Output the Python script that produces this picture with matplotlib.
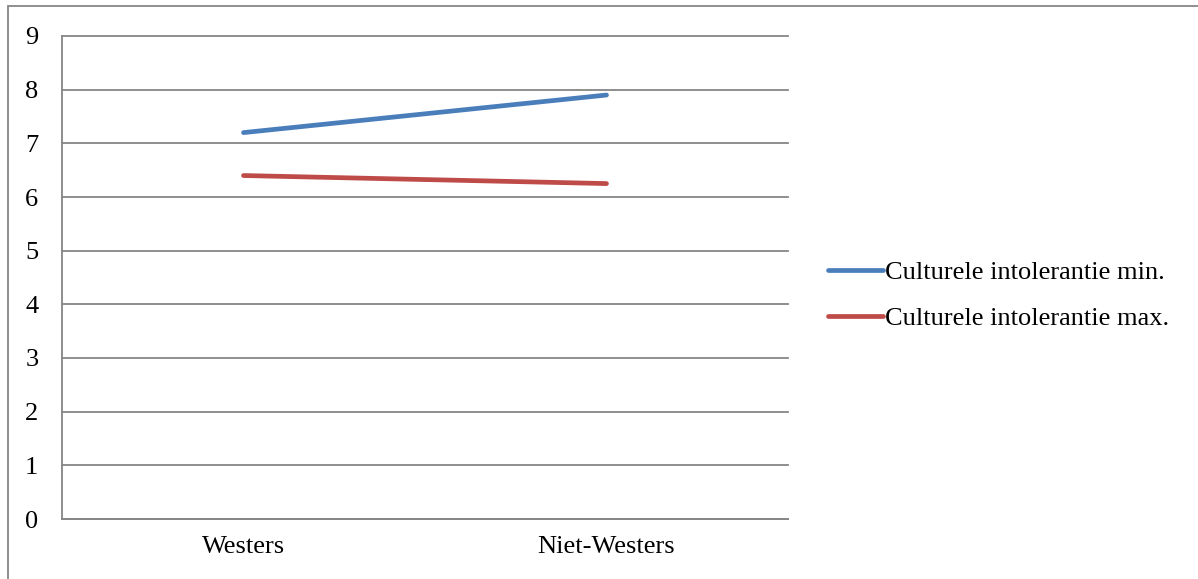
import matplotlib.pyplot as plt
from matplotlib.patches import Rectangle

categories = ['Westers', 'Niet-Westers']
min_values = [7.2, 7.9]
max_values = [6.4, 6.25]
series_labels = ['Culturele intolerantie min.', 'Culturele intolerantie max.']
y_ticks = list(range(0, 10))

plt.rcParams['font.family'] = ['Liberation Serif', 'DejaVu Serif']

fig = plt.figure(figsize=(11.98, 5.79), dpi=100)
ax = fig.add_axes([62 / 1198, 60 / 579, 726 / 1198, 483 / 579])

x = list(range(len(categories)))
ax.plot(x, min_values, color='#4A7EBB', lw=3.4, solid_capstyle='round', label=series_labels[0])
ax.plot(x, max_values, color='#BE4B48', lw=3.4, solid_capstyle='round', label=series_labels[1])

ax.set_xlim(-0.5, len(categories) - 0.5)
ax.set_ylim(0, 9)
ax.set_yticks(y_ticks)
ax.set_xticks(x)
ax.set_xticklabels(categories)
ax.tick_params(axis='y', length=0, pad=17, labelsize=19)
ax.tick_params(axis='x', length=0, pad=12, labelsize=19)
ax.yaxis.grid(True, color='#868686', lw=1.3)
for gl in ax.get_ygridlines():
    gl.set_clip_on(False)
ax.set_axisbelow(True)
for side in ['top', 'right']:
    ax.spines[side].set_visible(False)
for side in ['left', 'bottom']:
    ax.spines[side].set_color('#868686')
    ax.spines[side].set_linewidth(1.3)

ax.legend(loc='center left', bbox_to_anchor=(1.055, 0.463), frameon=False,
          fontsize=19, handlelength=2.1, handletextpad=0.05, labelspacing=0.87,
          borderpad=0, borderaxespad=0)

# outer chart border (only left and top visible in the crop)
fig.patches.append(Rectangle((8 / 1198, -0.1), 1.2, (573 / 579) + 0.1,
                             transform=fig.transFigure, fill=False,
                             edgecolor='#868686', lw=1.3))

fig.savefig('out.png', dpi=100)
